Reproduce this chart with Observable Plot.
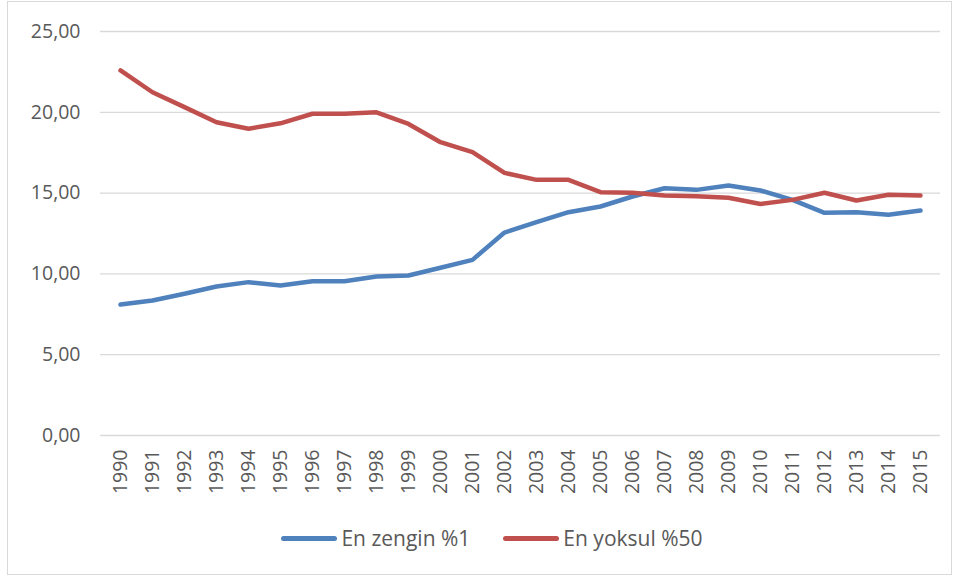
<!DOCTYPE html>
<html>
<head>
<meta charset="utf-8">
<script src="https://cdn.jsdelivr.net/npm/d3@7"></script>
<script src="https://cdn.jsdelivr.net/npm/@observablehq/plot@0.6"></script>
<style>
  html, body { margin: 0; padding: 0; background: #fff; }
  #wrap { position: relative; width: 960px; height: 580px; font-family: "Open Sans", Lato, sans-serif; }
  #frame { position: absolute; left: 7px; top: 1px; width: 945px; height: 574px; border: 1px solid #d9d9d9; box-sizing: border-box; }
  #chart { position: absolute; left: 0; top: 0; }
  #legend { position: absolute; left: 0; top: 524px; width: 984px; display: flex; justify-content: center; align-items: center; gap: 33px; font-size: 21px; color: #595959; }
  .item { display: flex; align-items: center; gap: 4px; }
  .sw { width: 56px; height: 5px; border-radius: 3px; display: inline-block; }
</style>
</head>
<body>
<div id="wrap">
  <div id="frame"></div>
  <div id="chart"></div>
  <div id="legend"></div>
</div>
<script>
const years = ["1990","1991","1992","1993","1994","1995","1996","1997","1998","1999","2000","2001","2002","2003","2004","2005","2006","2007","2008","2009","2010","2011","2012","2013","2014","2015"];
const zengin = [8.10, 8.35, 8.77, 9.22, 9.49, 9.28, 9.55, 9.55, 9.84, 9.90, 10.38, 10.87, 12.56, 13.20, 13.82, 14.17, 14.79, 15.30, 15.20, 15.47, 15.16, 14.58, 13.78, 13.82, 13.66, 13.92];
const yoksul = [22.59, 21.24, 20.32, 19.38, 18.98, 19.32, 19.91, 19.91, 20.00, 19.28, 18.15, 17.53, 16.25, 15.82, 15.82, 15.06, 15.02, 14.85, 14.81, 14.71, 14.33, 14.58, 15.02, 14.54, 14.90, 14.85];
const seriesNames = ["En zengin %1", "En yoksul %50"];
const seriesColors = ["#4f81bd", "#c0504d"];
const yTicks = [0, 5, 10, 15, 20, 25];

const rows = [];
years.forEach((y, i) => {
  rows.push({year: y, value: zengin[i], series: seriesNames[0]});
  rows.push({year: y, value: yoksul[i], series: seriesNames[1]});
});

const fmt = d => d.toFixed(2).replace(".", ",");

const plot = Plot.plot({
  width: 960,
  height: 510,
  marginTop: 31,
  marginBottom: 75,
  marginLeft: 100,
  marginRight: 20,
  style: {fontFamily: "'Open Sans', Lato, sans-serif", fontSize: "19px", color: "#595959", background: "transparent"},
  x: {type: "point", domain: years, padding: 0.5, label: null},
  y: {domain: [0, 25], label: null},
  color: {domain: seriesNames, range: seriesColors},
  marks: [
    Plot.ruleY(yTicks, {stroke: "#d9d9d9", strokeWidth: 1.3}),
    Plot.axisY(yTicks, {tickSize: 0, tickPadding: 20, tickFormat: fmt, fill: "#595959", fontSize: 19.5, label: null}),
    Plot.axisX({tickSize: 0, tickPadding: 14, tickRotate: -90, fill: "#595959", fontSize: 19.5, label: null}),
    Plot.line(rows, {x: "year", y: "value", z: "series", stroke: "series", strokeWidth: 4.5, strokeLinecap: "round", strokeLinejoin: "round"})
  ]
});
document.getElementById("chart").appendChild(plot);

const legend = document.getElementById("legend");
seriesNames.forEach((n, i) => {
  const it = document.createElement("div");
  it.className = "item";
  const sw = document.createElement("span");
  sw.className = "sw";
  sw.style.background = seriesColors[i];
  const t = document.createElement("span");
  t.textContent = n;
  it.appendChild(sw);
  it.appendChild(t);
  legend.appendChild(it);
});
</script>
</body>
</html>
